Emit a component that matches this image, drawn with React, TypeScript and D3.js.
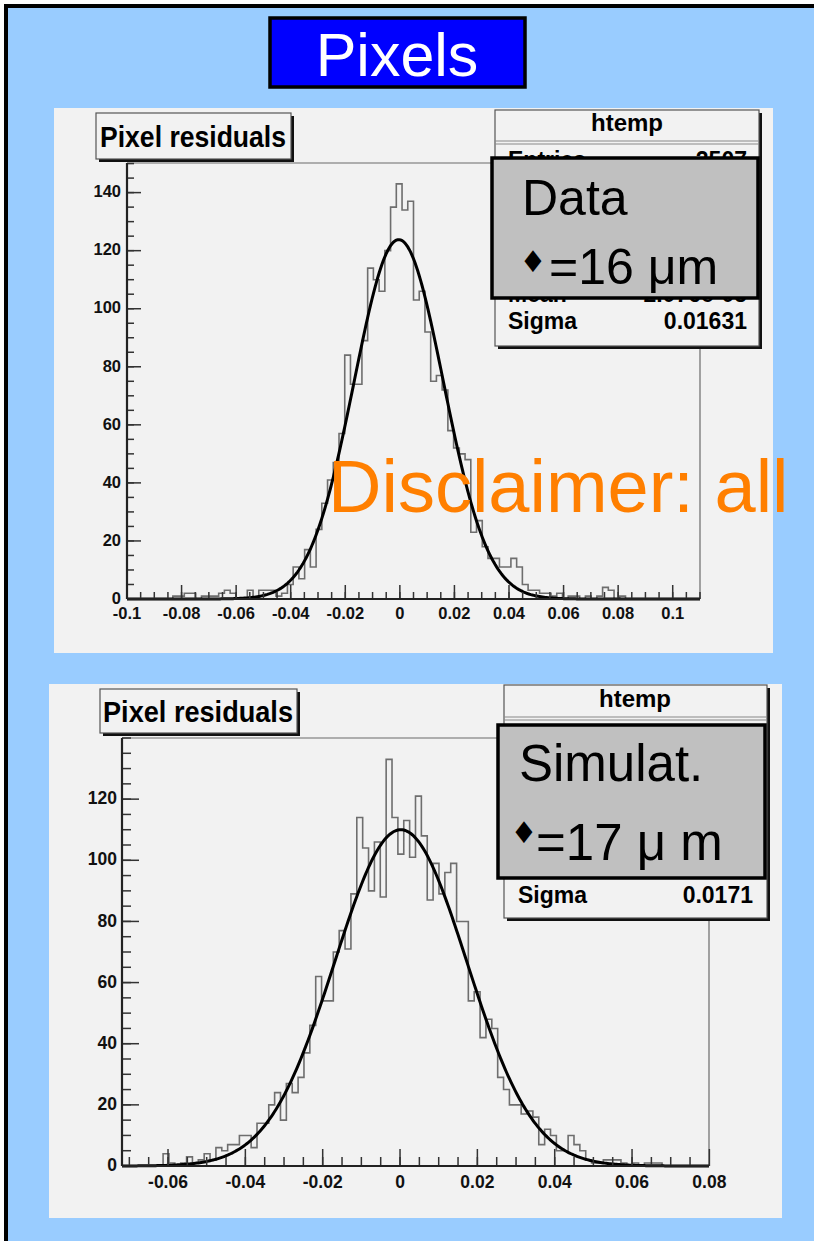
import * as d3 from 'd3';

const W = 814;
const H = 1241;

// ---- top histogram (data) ----
const topCounts = [
  0, 0, 0, 0, 0, 0, 0, 0, 1, 1,
  2, 2, 0, 1, 1, 1, 2, 3, 2, 0,
  0, 3, 0, 3, 3, 3, 1, 2, 5, 11,
  7, 17, 11, 24, 33, 41, 47, 57, 84, 74,
  74, 89, 114, 110, 106, 120, 135, 143, 134, 137,
  103, 106, 92, 75, 77, 72, 58, 52, 50, 48,
  23, 27, 18, 14, 14, 11, 11, 14, 11, 5,
  3, 3, 2, 2, 1, 2, 0, 1, 1, 0,
  1, 0, 1, 4, 3, 0, 1, 0, 0, 0,
  0, 0, 0, 0, 0, 0, 0, 0, 0, 0,
];
const topRange: [number, number] = [-0.1, 0.11];
const topYMax = 150.2;
const topFit = { constant: 123.8, mean: -0.0004, sigma: 0.01631 };
const topXTicks = [-0.1, -0.08, -0.06, -0.04, -0.02, 0, 0.02, 0.04, 0.06, 0.08, 0.1];
const topXLabels = ['-0.1', '-0.08', '-0.06', '-0.04', '-0.02', '0', '0.02', '0.04', '0.06', '0.08', '0.1'];
const topYTicks = [0, 20, 40, 60, 80, 100, 120, 140];
const topStats = [
  { name: 'Entries', value: '2507' },
  { name: 'Mean', value: '2.076e-05' },
  { name: 'Sigma', value: '0.01631' },
];

// ---- bottom histogram (simulation) ----
const bottomCounts = [
  0, 0, 0, 0, 0, 0, 0, 4, 1, 0,
  1, 3, 1, 2, 4, 2, 6, 5, 7, 7,
  10, 10, 6, 14, 14, 20, 24, 15, 27, 24,
  29, 37, 46, 62, 54, 54, 70, 77, 71, 89,
  114, 104, 90, 106, 88, 133, 114, 102, 113, 101,
  121, 108, 87, 99, 89, 96, 99, 80, 80, 54,
  57, 42, 48, 45, 29, 25, 20, 20, 17, 18,
  16, 7, 12, 10, 5, 5, 10, 7, 5, 2,
  1, 1, 2, 2, 2, 1, 0, 1, 0, 1,
  1, 1, 0, 0, 0, 0, 0, 0, 0, 0,
];
const bottomRange: [number, number] = [-0.0719, 0.0799];
const bottomYMax = 140;
const bottomFit = { constant: 110, mean: 0.0002, sigma: 0.0171 };
const bottomXTicks = [-0.06, -0.04, -0.02, 0, 0.02, 0.04, 0.06, 0.08];
const bottomXLabels = ['-0.06', '-0.04', '-0.02', '0', '0.02', '0.04', '0.06', '0.08'];
const bottomYTicks = [0, 20, 40, 60, 80, 100, 120];
const bottomStats = [
  { name: 'Sigma', value: '0.0171' },
];

const FONT = '"Liberation Sans", Arial, Helvetica, sans-serif';

interface HistProps {
  counts: number[];
  range: [number, number];
  yMax: number;
  fit: { constant: number; mean: number; sigma: number };
  xTicks: number[];
  xLabels: string[];
  yTicks: number[];
  frame: { x0: number; x1: number; y0: number; y1: number };
  labelSize: number;
  majorLen: number;
  minorLen: number;
  xLabelY: number;
  yLabelX: number;
}

function Histogram({ counts, range, yMax, fit, xTicks, xLabels, yTicks, frame, labelSize, majorLen, minorLen, xLabelY, yLabelX }: HistProps) {
  const x = d3.scaleLinear().domain(range).range([frame.x0, frame.x1]);
  const y = d3.scaleLinear().domain([0, yMax]).range([frame.y1, frame.y0]);
  const bw = (range[1] - range[0]) / counts.length;

  // step outline of the histogram
  const pts: [number, number][] = [[range[0], 0]];
  counts.forEach((c, i) => pts.push([range[0] + i * bw, c]));
  pts.push([range[1], counts[counts.length - 1]]);
  pts.push([range[1], 0]);
  const step = d3.line<[number, number]>()
    .x(d => x(d[0]))
    .y(d => y(d[1]))
    .curve(d3.curveStepAfter);

  // fitted gaussian
  const gx = d3.range(0, 401).map(i => range[0] + (i / 400) * (range[1] - range[0]));
  const gauss = d3.line<number>()
    .x(d => x(d))
    .y(d => y(fit.constant * Math.exp(-0.5 * ((d - fit.mean) / fit.sigma) ** 2)));

  const xMinor = d3.range(Math.ceil(range[0] / 0.005 - 1e-6), Math.floor(range[1] / 0.005 + 1e-6) + 1).map(i => i * 0.005);
  const yMinor = d3.range(0, Math.floor(yMax / 5) + 1).map(i => i * 5);

  return (
    <g>
      <line x1={frame.x0} x2={frame.x1} y1={frame.y0} y2={frame.y0} stroke="#6a6a6a" strokeWidth={1.2} />
      <line x1={frame.x1} x2={frame.x1} y1={frame.y0} y2={frame.y1} stroke="#6a6a6a" strokeWidth={1.2} />
      <path d={step(pts) || ''} fill="none" stroke="#6e6e6e" strokeWidth={1.6} />
      <path d={gauss(gx) || ''} fill="none" stroke="#000" strokeWidth={3} />
      {/* x axis */}
      {xMinor.map((v, i) => (
        <line key={'xm' + i} x1={x(v)} x2={x(v)} y1={frame.y1} y2={frame.y1 - minorLen} stroke="#333" strokeWidth={1.5} />
      ))}
      {xTicks.map((v, i) => (
        <line key={'xM' + i} x1={x(v)} x2={x(v)} y1={frame.y1} y2={frame.y1 - majorLen} stroke="#333" strokeWidth={1.5} />
      ))}
      {xTicks.map((v, i) => (
        <text key={'xl' + i} x={x(v)} y={xLabelY} textAnchor="middle" fontFamily={FONT} fontWeight="bold" fontSize={labelSize} fill="#111">
          {xLabels[i]}
        </text>
      ))}
      {/* y axis */}
      {yMinor.map((v, i) => (
        <line key={'ym' + i} x1={frame.x0} x2={frame.x0 + minorLen} y1={y(v)} y2={y(v)} stroke="#333" strokeWidth={1.5} />
      ))}
      {yTicks.map((v, i) => (
        <line key={'yM' + i} x1={frame.x0} x2={frame.x0 + majorLen} y1={y(v)} y2={y(v)} stroke="#333" strokeWidth={1.5} />
      ))}
      {yTicks.map((v, i) => (
        <text key={'yl' + i} x={yLabelX} y={y(v) - 1} dy="0.35em" textAnchor="end" fontFamily={FONT} fontWeight="bold" fontSize={labelSize} fill="#111">
          {v}
        </text>
      ))}
      <line x1={frame.x0} x2={frame.x1} y1={frame.y1} y2={frame.y1} stroke="#222" strokeWidth={2.2} />
      <line x1={frame.x0} x2={frame.x0} y1={frame.y0} y2={frame.y1} stroke="#222" strokeWidth={2.2} />
    </g>
  );
}

function ShadowBox({ x, y, w, h }: { x: number; y: number; w: number; h: number }) {
  return (
    <g>
      <rect x={x + 3} y={y + 3} width={w} height={h} fill="#111" />
      <rect x={x} y={y} width={w} height={h} fill="#f2f2f2" stroke="#555" strokeWidth={1.2} />
    </g>
  );
}

export default function App() {
  return (
    <svg width={W} height={H} style={{ position: 'absolute', left: 0, top: 0 }}>
      <rect x={0} y={0} width={W} height={H} fill="#fff" />
      <rect x={6} y={6} width={W + 10} height={H + 10} fill="#99ccff" stroke="#000" strokeWidth={4} />

      {/* title */}
      <rect x={270} y={18} width={255} height={69} fill="#0000ff" stroke="#000" strokeWidth={3.5} />
      <text x={397} y={76} textAnchor="middle" fontFamily={FONT} fontSize={61} fill="#fff">Pixels</text>

      {/* ---- top panel ---- */}
      <rect x={54} y={108} width={719} height={545} fill="#f2f2f2" />
      <Histogram
        counts={topCounts}
        range={topRange}
        yMax={topYMax}
        fit={topFit}
        xTicks={topXTicks}
        xLabels={topXLabels}
        yTicks={topYTicks}
        frame={{ x0: 127, x1: 700, y0: 163, y1: 599 }}
        labelSize={16.5}
        majorLen={14}
        minorLen={7}
        xLabelY={619}
        yLabelX={121}
      />
      <ShadowBox x={96} y={113} w={195} h={46} />
      <text x={193} y={147} textAnchor="middle" fontFamily={FONT} fontWeight="bold" fontSize={29} textLength={186} lengthAdjust="spacingAndGlyphs">Pixel residuals</text>

      <ShadowBox x={495} y={110} w={264} h={236} />
      <text x={627} y={131} textAnchor="middle" fontFamily={FONT} fontWeight="bold" fontSize={24}>htemp</text>
      <line x1={495} x2={759} y1={141} y2={141} stroke="#888" strokeWidth={1} />
      <line x1={495} x2={759} y1={144} y2={144} stroke="#888" strokeWidth={1} />
      {topStats.map((s, i) => (
        <g key={s.name} fontFamily={FONT} fontWeight="bold" fontSize={23}>
          <text x={508} y={[168, 302, 329][i]}>{s.name}</text>
          <text x={747} y={[168, 302, 329][i]} textAnchor="end">{s.value}</text>
        </g>
      ))}
      <rect x={492} y={158} width={266} height={140} fill="#c0c0c0" stroke="#000" strokeWidth={3.5} />
      <text x={522} y={215} fontFamily={FONT} fontSize={50}>Data</text>
      <text x={533} y={272} textAnchor="middle" fontFamily='"DejaVu Sans", sans-serif' fontSize={30}>♦</text>
      <text x={549} y={284} fontFamily={FONT} fontSize={50}>=16 μm</text>

      {/* ---- bottom panel ---- */}
      <rect x={49} y={684} width={733} height={534} fill="#f2f2f2" />
      <Histogram
        counts={bottomCounts}
        range={bottomRange}
        yMax={bottomYMax}
        fit={bottomFit}
        xTicks={bottomXTicks}
        xLabels={bottomXLabels}
        yTicks={bottomYTicks}
        frame={{ x0: 122, x1: 709, y0: 738, y1: 1166 }}
        labelSize={17.5}
        majorLen={17}
        minorLen={9}
        xLabelY={1188}
        yLabelX={117}
      />
      <ShadowBox x={100} y={689} w={197} h={44} />
      <text x={198} y={722} textAnchor="middle" fontFamily={FONT} fontWeight="bold" fontSize={29} textLength={190} lengthAdjust="spacingAndGlyphs">Pixel residuals</text>

      <ShadowBox x={504} y={685} w={263} h={233} />
      <text x={635} y={707} textAnchor="middle" fontFamily={FONT} fontWeight="bold" fontSize={24}>htemp</text>
      <line x1={504} x2={767} y1={717} y2={717} stroke="#888" strokeWidth={1} />
      <line x1={504} x2={767} y1={720} y2={720} stroke="#888" strokeWidth={1} />
      {bottomStats.map(s => (
        <g key={s.name} fontFamily={FONT} fontWeight="bold" fontSize={23}>
          <text x={518} y={903}>{s.name}</text>
          <text x={753} y={903} textAnchor="end">{s.value}</text>
        </g>
      ))}
      <rect x={498} y={725} width={267} height={153} fill="#c0c0c0" stroke="#000" strokeWidth={3.5} />
      <text x={519} y={781} fontFamily={FONT} fontSize={51}>Simulat.</text>
      <text x={524} y={843} textAnchor="middle" fontFamily='"DejaVu Sans", sans-serif' fontSize={30}>♦</text>
      <text x={536} y={860} fontFamily={FONT} fontSize={51}>=17 μ m</text>

      {/* overlay */}
      <text x={328} y={512} fontFamily={FONT} fontSize={74} fill="#ff7f00">Disclaimer: all</text>
    </svg>
  );
}
